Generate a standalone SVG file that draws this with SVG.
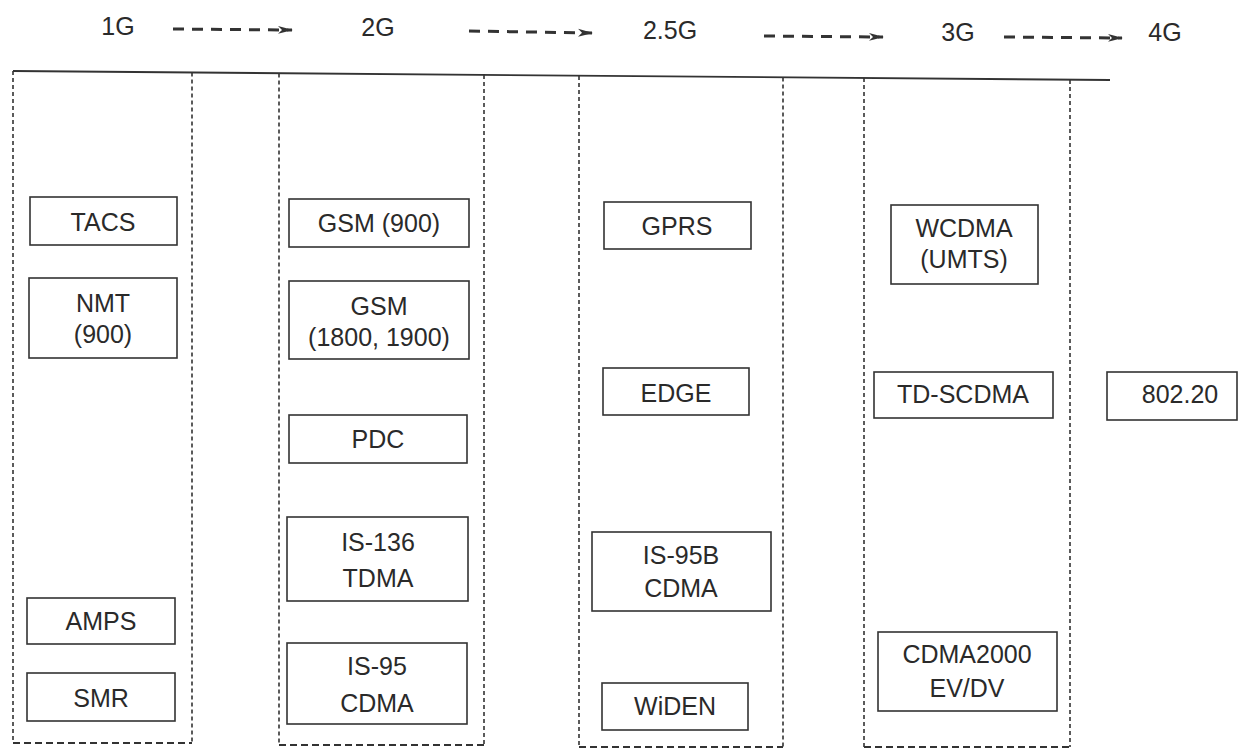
<svg xmlns="http://www.w3.org/2000/svg" width="1239" height="750" viewBox="0 0 1239 750">
<style>
text{font-family:"Liberation Sans",Arial,sans-serif;font-size:25px;fill:#2a2a2a;text-anchor:middle}
.node rect{fill:#fff;stroke:#333;stroke-width:1.6}
.col{fill:none;stroke:#333;stroke-width:1.6;stroke-dasharray:4 3}
.bot{fill:none;stroke:#333;stroke-width:2;stroke-dasharray:7 4}
.arr{stroke:#333;stroke-width:3;stroke-dasharray:11 8;fill:none}
</style>
<defs>
<marker id="ah" markerWidth="16" markerHeight="10" refX="14" refY="5" orient="auto" markerUnits="userSpaceOnUse">
<path d="M0,1 L15,5 L0,9 L4,5 Z" fill="#333"/>
</marker>
</defs>
<rect width="1239" height="750" fill="#fff"/>
<g id="columns">
<path class="col" d="M13,71 V743 M192,72.5 V743"/>
<path class="bot" d="M13,743 H192"/>
<path class="col" d="M279,73.5 V745 M484,75 V745"/>
<path class="bot" d="M279,745 H484"/>
<path class="col" d="M579,76 V747 M783,77.5 V747"/>
<path class="bot" d="M579,747 H783"/>
<path class="col" d="M864,78 V747 M1070,80 V747"/>
<path class="bot" d="M864,747 H1070"/>
<line x1="13" y1="71" x2="1110" y2="80" stroke="#333" stroke-width="1.8"/>
</g>
<g id="headers">
<text x="118" y="35">1G</text>
<text x="378" y="36">2G</text>
<text x="670" y="39">2.5G</text>
<text x="958" y="41">3G</text>
<text x="1165" y="41">4G</text>
</g>
<g id="connectors">
<line class="arr" x1="173" y1="29" x2="292" y2="30" marker-end="url(#ah)"/>
<line class="arr" x1="469" y1="31" x2="592" y2="33" marker-end="url(#ah)"/>
<line class="arr" x1="764" y1="36" x2="883" y2="37" marker-end="url(#ah)"/>
<line class="arr" x1="1004" y1="37" x2="1122" y2="38" marker-end="url(#ah)"/>
</g>
<g id="tacs" class="node"><rect x="30" y="197" width="147" height="48"/><text x="103" y="231">TACS</text></g>
<g id="nmt" class="node"><rect x="29" y="278" width="148" height="80"/><text x="103" y="312">NMT</text><text x="103" y="343">(900)</text></g>
<g id="amps" class="node"><rect x="27" y="598" width="148" height="46"/><text x="101" y="630">AMPS</text></g>
<g id="smr" class="node"><rect x="27" y="673" width="148" height="48"/><text x="101" y="707">SMR</text></g>
<g id="gsm900" class="node"><rect x="289" y="199" width="180" height="48"/><text x="379" y="232">GSM (900)</text></g>
<g id="gsm1800" class="node"><rect x="289" y="281" width="180" height="78"/><text x="379" y="315">GSM</text><text x="379" y="346">(1800, 1900)</text></g>
<g id="pdc" class="node"><rect x="289" y="415" width="178" height="48"/><text x="378" y="448">PDC</text></g>
<g id="is136" class="node"><rect x="287" y="517" width="181" height="84"/><text x="378" y="551">IS-136</text><text x="378" y="587">TDMA</text></g>
<g id="is95" class="node"><rect x="287" y="643" width="180" height="81"/><text x="377" y="675">IS-95</text><text x="377" y="712">CDMA</text></g>
<g id="gprs" class="node"><rect x="604" y="202" width="147" height="47"/><text x="677" y="235">GPRS</text></g>
<g id="edge" class="node"><rect x="603" y="368" width="146" height="47"/><text x="676" y="402">EDGE</text></g>
<g id="is95b" class="node"><rect x="592" y="532" width="179" height="79"/><text x="681" y="564">IS-95B</text><text x="681" y="597">CDMA</text></g>
<g id="widen" class="node"><rect x="602" y="683" width="146" height="47"/><text x="675" y="715">WiDEN</text></g>
<g id="wcdma" class="node"><rect x="891" y="205" width="147" height="79"/><text x="964" y="237">WCDMA</text><text x="964" y="268">(UMTS)</text></g>
<g id="tdscdma" class="node"><rect x="874" y="372" width="179" height="46"/><text x="963" y="403">TD-SCDMA</text></g>
<g id="cdma2000" class="node"><rect x="878" y="632" width="179" height="79"/><text x="967" y="663">CDMA2000</text><text x="967" y="697">EV/DV</text></g>
<g id="n80220" class="node"><rect x="1107" y="372" width="130" height="48"/><text x="1180" y="403">802.20</text></g>
</svg>
